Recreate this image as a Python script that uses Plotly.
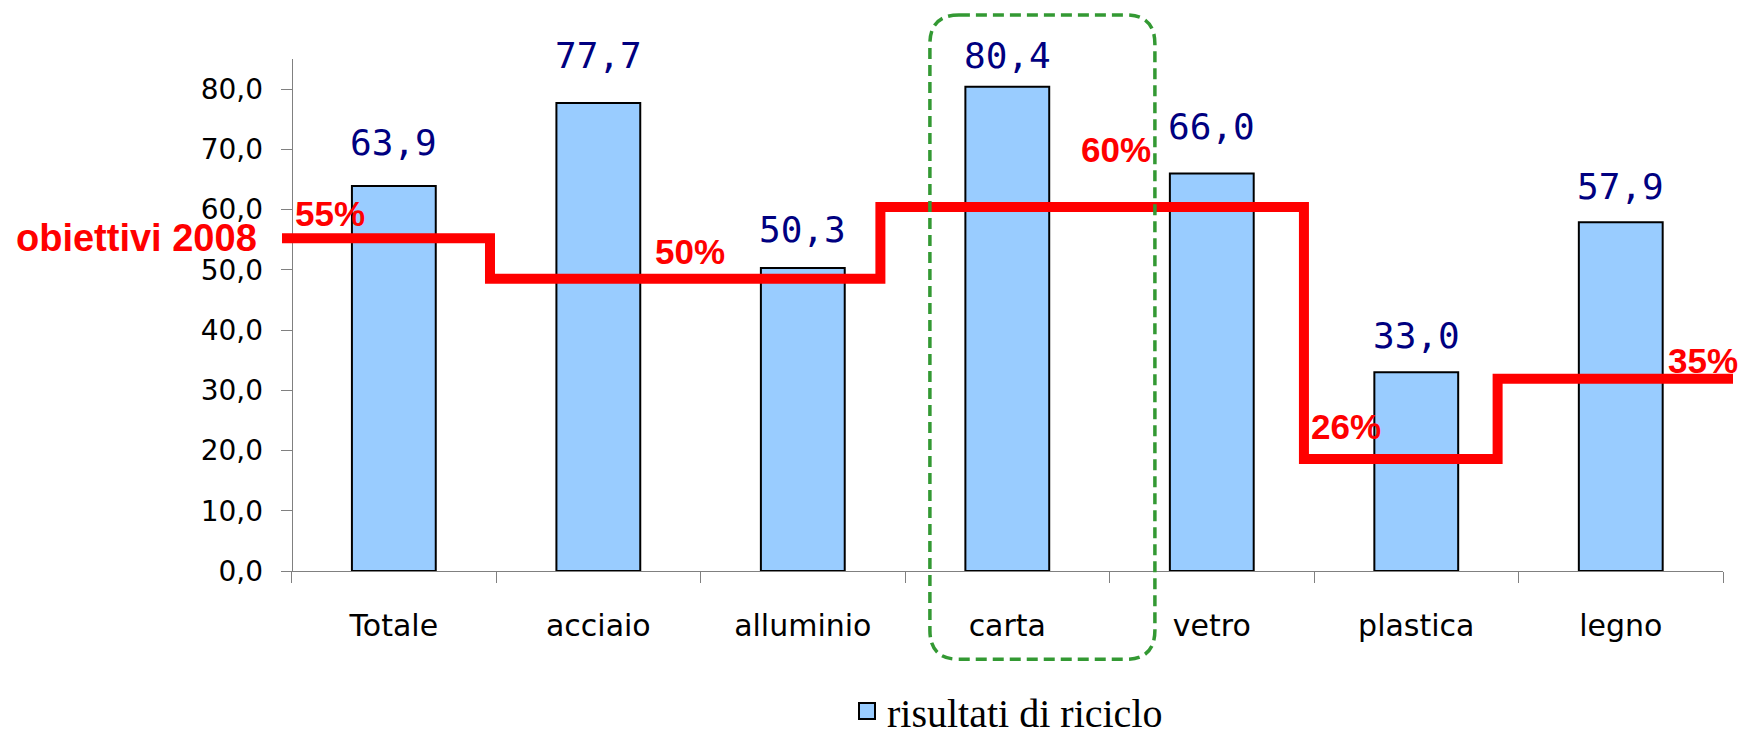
import plotly.graph_objects as go

# ---------------- data ----------------
categories = ["Totale", "acciaio", "alluminio", "carta", "vetro", "plastica", "legno"]
recycling = [63.9, 77.7, 50.3, 80.4, 66.0, 33.0, 57.9]

# "obiettivi 2008" step line as drawn over the bars (category units / values)
target_step_x = [-0.547, 0.470, 2.379, 4.450, 5.397, 6.548]
target_levels = [55.25, 48.5, 60.45, 18.6, 31.9, 31.9]
target_labels = ["55%", "50%", "60%", "26%", "35%"]

y_ticks = [0, 10, 20, 30, 40, 50, 60, 70, 80]

# ---------------- layout helpers ----------------
W, H = 1742, 732
L, R, T, B = 282, 9, 59, 161
PW, PH = W - L - R, H - T - B


def fx(p):
    return (p - L) / PW


def fy(p):
    return (H - B - p) / PH


# label placement (style)
target_label_pos = [(-0.312, 59.4), (1.448, 53.0), (3.531, 69.9), (4.656, 23.96), (6.402, 35.0)]
value_label_shift = [43.8, 47.8, 39.0, 31.5, 46.9, 37.0, 35.5]

fig = go.Figure()

fig.add_trace(go.Bar(
    x=categories, y=recycling, xaxis="x", yaxis="y",
    marker=dict(color="#99CCFF", line=dict(color="black", width=2)),
    showlegend=False, hoverinfo="x+y",
))

fig.add_trace(go.Scatter(
    x=target_step_x, y=target_levels, xaxis="x2", yaxis="y",
    mode="lines", line=dict(color="#FF0000", width=10, shape="hv"),
    showlegend=False, hoverinfo="skip",
))

# legend entry
fig.add_trace(go.Scatter(
    x=[None], y=[None], xaxis="x2", yaxis="y", mode="markers",
    name="risultati di riciclo",
    marker=dict(symbol="square", size=16, color="#99CCFF", line=dict(color="black", width=2)),
))

annotations = []
for c, v, s in zip(categories, recycling, value_label_shift):
    annotations.append(dict(
        x=c, y=v, xref="x", yref="y", text=f"{v:.1f}".replace(".", ","),
        showarrow=False, yanchor="middle", yshift=s,
        font=dict(family="DejaVu Sans Mono", size=36, color="#000080"),
    ))
for lab, (lx, ly) in zip(target_labels, target_label_pos):
    annotations.append(dict(
        x=lx, y=ly, xref="x2", yref="y", text=lab, showarrow=False,
        xanchor="center", yanchor="middle",
        font=dict(family="Liberation Sans", size=35, color="#FF0000", weight="bold"),
    ))
annotations.append(dict(
    x=fx(14), y=target_levels[0], xref="paper", yref="y", text="obiettivi 2008",
    showarrow=False, xanchor="left", yanchor="middle",
    font=dict(family="Liberation Sans", size=38, color="#FF0000", weight="bold"),
))

# green dashed rounded box around "carta"
x0, x1 = fx(929.9), fx(1154.9)
yt, yb = fy(15), fy(659.3)
rx, ry = 29 / PW, 29 / PH
path = (f"M {x0+rx},{yt} L {x1-rx},{yt} Q {x1},{yt} {x1},{yt-ry} "
        f"L {x1},{yb+ry} Q {x1},{yb} {x1-rx},{yb} L {x0+rx},{yb} "
        f"Q {x0},{yb} {x0},{yb+ry} L {x0},{yt-ry} Q {x0},{yt} {x0+rx},{yt} Z")

fig.update_layout(
    width=W, height=H,
    margin=dict(l=L, r=R, t=T, b=B, autoexpand=False),
    paper_bgcolor="white", plot_bgcolor="rgba(0,0,0,0)",
    separators=",.",
    bargap=0.59,
    font=dict(family="DejaVu Sans", color="black"),
    xaxis=dict(
        domain=[fx(291.6), fx(1723)], type="category", range=[-0.5, 6.5],
        tickson="boundaries", ticks="outside", ticklen=11, tickcolor="#808080",
        showline=True, linecolor="#808080", linewidth=1,
        tickfont=dict(family="DejaVu Sans", size=30, color="black"),
        ticklabelstandoff=28, showgrid=False, zeroline=False, anchor="y",
        automargin=False,
    ),
    xaxis2=dict(domain=[0, 1], range=[target_step_x[0], target_step_x[-1]],
                visible=False, anchor="y", showgrid=False, zeroline=False),
    yaxis=dict(
        domain=[0, 1], range=[0, 85], anchor="free", position=fx(291.6),
        tickvals=y_ticks, tickformat=".1f", ticks="outside", ticklen=11,
        tickcolor="#808080", showline=True, linecolor="#808080", linewidth=1,
        tickfont=dict(family="DejaVu Sans", size=28, color="black"),
        ticklabelstandoff=12, showgrid=False, zeroline=False, automargin=False,
    ),
    showlegend=True,
    legend=dict(
        orientation="h", x=fx(847), xanchor="left", y=fy(711), yanchor="middle",
        font=dict(family="Liberation Serif", size=40, color="black"),
        bgcolor="rgba(0,0,0,0)",
    ),
    annotations=annotations,
    shapes=[dict(type="path", path=path, xref="paper", yref="paper", layer="above",
                 line=dict(color="#339933", width=3.5, dash="11px,6px"))],
)

fig.write_html("out.html", config={"displayModeBar": False},
               post_script="document.body.style.margin='0px';")
